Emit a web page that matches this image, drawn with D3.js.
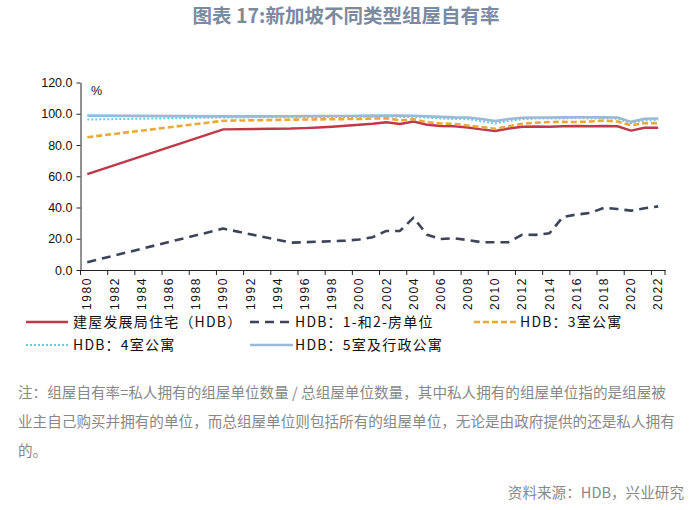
<!DOCTYPE html>
<html><head><meta charset="utf-8">
<script src="https://cdn.jsdelivr.net/npm/d3@7"></script>
<style>
html,body{margin:0;padding:0;background:#fff;}
svg{display:block;}
</style></head>
<body>
<svg id="chart" width="700" height="510"></svg>
<script>
// ---------- data ----------
const categories = d3.range(1980, 2023).map(String);
const dataYears = [1980, 1990, 1995, 1996, 1997, 1998, 1999, 2000, 2001, 2002, 2003, 2004, 2005, 2006, 2007, 2008, 2009, 2010, 2011, 2012, 2013, 2014, 2015, 2016, 2017, 2018, 2019, 2020, 2021, 2022];
const hdbAll   = [61.4, 90.0, 90.5, 90.8, 91.2, 91.7, 92.3, 92.9, 93.6, 94.5, 93.5, 95.0, 93.0, 92.2, 92.0, 91.2, 90.0, 89.0, 90.5, 91.7, 91.8, 91.7, 92.0, 92.1, 92.0, 92.2, 92.0, 89.2, 91.0, 91.0];
const hdb12    = [5.0, 26.5, 17.5, 17.8, 18.1, 18.4, 18.8, 19.5, 21.0, 25.0, 25.0, 33.5, 22.5, 19.8, 20.3, 19.2, 17.8, 17.8, 17.8, 22.6, 22.5, 23.5, 34.0, 35.5, 36.5, 39.8, 39.0, 38.0, 39.5, 40.7];
const hdb3     = [85.0, 95.5, 96.2, 96.3, 96.4, 96.5, 96.6, 96.7, 96.9, 97.1, 95.8, 96.5, 94.5, 93.8, 93.5, 92.5, 91.5, 90.3, 92.0, 93.5, 94.3, 94.7, 94.8, 94.7, 95.0, 95.6, 95.0, 92.6, 94.0, 94.0];
const hdb4     = [96.3, 97.6, 97.8, 97.8, 97.9, 97.9, 98.0, 98.0, 98.1, 98.2, 98.0, 98.0, 97.5, 97.0, 96.6, 96.5, 95.2, 93.8, 95.3, 96.4, 96.9, 97.0, 97.0, 97.1, 97.0, 97.0, 96.8, 94.0, 95.8, 96.0];
const hdb5     = [98.8, 98.3, 98.4, 98.5, 98.5, 98.6, 98.6, 98.7, 98.8, 98.9, 98.8, 98.7, 98.4, 98.0, 97.7, 97.6, 96.6, 95.3, 96.6, 97.4, 97.6, 97.6, 97.7, 97.8, 97.8, 97.7, 97.6, 94.8, 96.8, 97.0];
const yTicks = [0, 20, 40, 60, 80, 100, 120];
const seriesNames = ["建屋发展局住宅（HDB）", "HDB：1-和2-房单位", "HDB：3室公寓", "HDB：4室公寓", "HDB：5室及行政公寓"];
const titleText = "图表 17:新加坡不同类型组屋自有率";
const noteLines = [
  "注：组屋自有率=私人拥有的组屋单位数量 / 总组屋单位数量，其中私人拥有的组屋单位指的是组屋被",
  "业主自己购买并拥有的单位，而总组屋单位则包括所有的组屋单位，无论是由政府提供的还是私人拥有",
  "的。"
];
const sourceText = "资料来源：HDB，兴业研究";

(function () {
const styles = [
  {color: "#c0394a", width: 2.5, dash: null},
  {color: "#3d4459", width: 2.6, dash: "9,6"},
  {color: "#e9a83a", width: 2.6, dash: "6,3"},
  {color: "#6cc9e4", width: 2, dash: "2,2"},
  {color: "#9bb9d6", width: 2.6, dash: null}
];
const seriesValues = [hdbAll, hdb12, hdb3, hdb4, hdb5];

const svg = d3.select("#chart");
const cjk = "'Noto Sans CJK SC', 'Noto Sans', sans-serif";
const num = "'Liberation Sans Narrow', 'Arial Narrow', 'Liberation Sans', Arial, sans-serif";

svg.append("text").attr("x", 346).attr("y", 16).attr("dy", "0.35em")
  .attr("text-anchor", "middle").attr("font-family", cjk).attr("font-weight", "bold")
  .attr("font-size", 19.5).attr("fill", "#7a8a9f").text(titleText);

const pl = 80.5, pr = 665, pt = 82.5, pb = 270;
const x = d3.scaleBand().domain(categories).range([pl, pr]).padding(0);
const y = d3.scaleLinear().domain([0, 120]).range([pb, pt]);

const yAxis = svg.append("g").attr("transform", `translate(${pl},0)`)
  .call(d3.axisLeft(y).tickValues(yTicks).tickFormat(d3.format(".1f")).tickSize(4).tickSizeOuter(0));
yAxis.select(".domain").attr("stroke", "#222");
yAxis.selectAll(".tick line").attr("stroke", "#222");
yAxis.selectAll("text").attr("font-family", num).attr("font-size", 12.5).attr("fill", "#111").attr("x", -8);

svg.append("text").attr("x", 91).attr("y", 91).attr("dy", "0.35em")
  .attr("font-family", num).attr("font-size", 12.5).attr("fill", "#111").text("%");

const labelCats = categories.filter((d, i) => i % 2 === 0);
const xAxis = svg.append("g").attr("transform", `translate(0,${pb})`)
  .call(d3.axisBottom(x).tickValues(labelCats).tickSize(0).tickSizeOuter(0));
xAxis.select(".domain").attr("stroke", "#222");
xAxis.selectAll("text")
  .attr("font-family", num).attr("font-size", 12).attr("fill", "#111")
  .attr("letter-spacing", "1.6px")
  .attr("text-anchor", "end")
  .attr("transform", "rotate(-90)")
  .attr("x", -7).attr("y", 0).attr("dy", "0.35em");
const boundaries = labelCats.map(c => x(c)).concat([pr]);
svg.append("g").selectAll("line").data(boundaries).join("line")
  .attr("x1", d => d).attr("x2", d => d).attr("y1", pb).attr("y2", pb + 5)
  .attr("stroke", "#222");

const line = d3.line()
  .x(d => x(String(d.year)) + x.bandwidth() / 2)
  .y(d => y(d.value));
seriesValues.forEach((vals, i) => {
  const pts = dataYears.map((yr, j) => ({year: yr, value: vals[j]}));
  svg.append("path").datum(pts)
    .attr("d", line).attr("fill", "none")
    .attr("stroke", styles[i].color).attr("stroke-width", styles[i].width)
    .attr("stroke-dasharray", styles[i].dash)
    .attr("stroke-linejoin", "round");
});

const legendPos = [
  {x1: 26, x2: 68, tx: 73, y: 322},
  {x1: 250, x2: 293, tx: 295, y: 322},
  {x1: 474, x2: 517, tx: 520, y: 322},
  {x1: 26, x2: 68, tx: 73, y: 345},
  {x1: 250, x2: 293, tx: 295, y: 345}
];
seriesNames.forEach((name, i) => {
  const p = legendPos[i];
  svg.append("line").attr("x1", p.x1).attr("x2", p.x2).attr("y1", p.y).attr("y2", p.y)
    .attr("stroke", styles[i].color).attr("stroke-width", styles[i].width)
    .attr("stroke-dasharray", styles[i].dash);
  svg.append("text").attr("x", p.tx).attr("y", p.y).attr("dy", "0.35em")
    .attr("font-family", cjk).attr("font-size", 14).attr("letter-spacing", "1.2px")
    .attr("fill", "#111").text(name);
});

const noteY = [393, 422, 451];
noteLines.forEach((t, i) => {
  svg.append("text").attr("x", 18).attr("y", noteY[i]).attr("dy", "0.35em")
    .attr("font-family", cjk).attr("font-size", 14.6).attr("fill", "#888").text(t);
});
svg.append("text").attr("x", 684).attr("y", 493).attr("dy", "0.35em").attr("text-anchor", "end")
  .attr("font-family", cjk).attr("font-size", 14.6).attr("fill", "#888").text(sourceText);
})();
</script>
</body></html>
